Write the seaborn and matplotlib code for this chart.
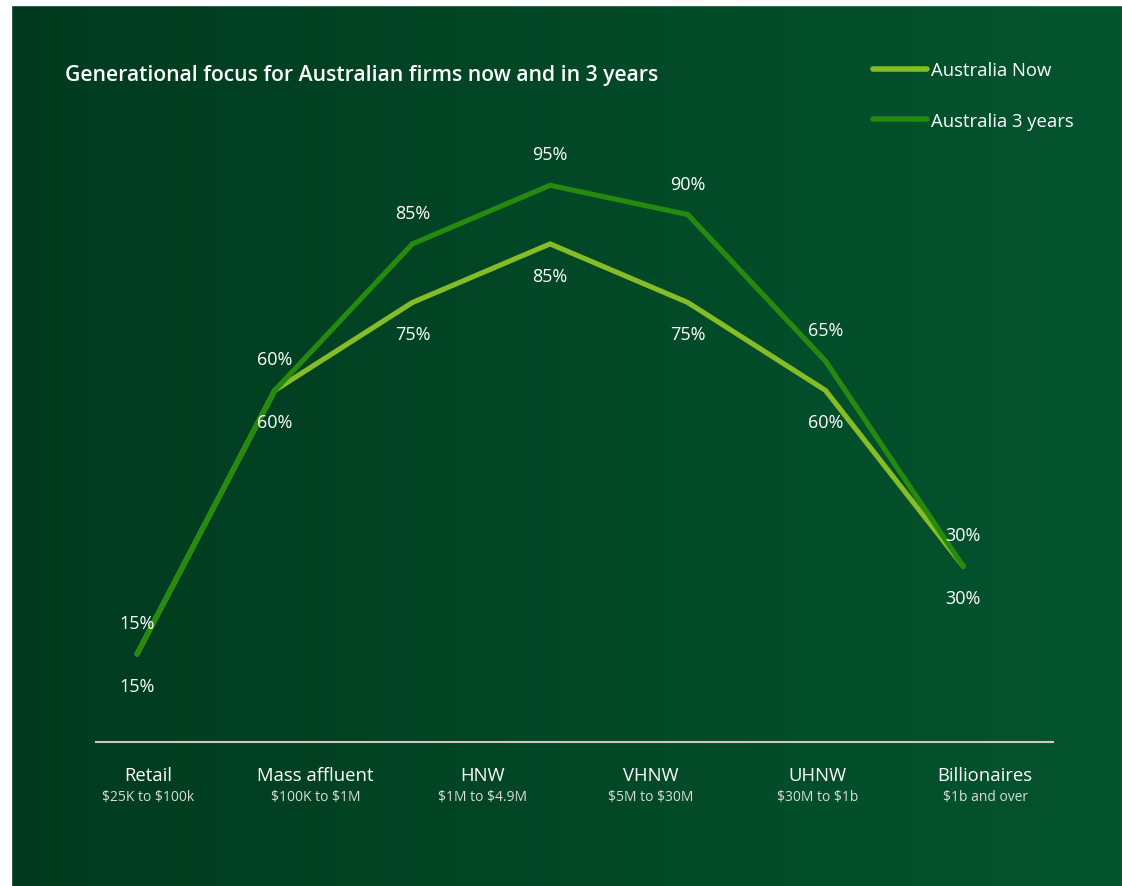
import numpy as np
import pandas as pd
import matplotlib
matplotlib.use('Agg')
import matplotlib.pyplot as plt
import seaborn as sns
from matplotlib.colors import LinearSegmentedColormap

#%% data
points = [0, 1, 2, 3, 4, 5, 6]
now = [15, 60, 75, 85, 75, 60, 30]
in3years = [15, 60, 85, 95, 90, 65, 30]
seriesNames = ['Australia Now', 'Australia 3 years']
categories = ['Retail', 'Mass affluent', 'HNW', 'VHNW', 'UHNW', 'Billionaires']
ranges = [r'\$25K to \$100k', r'\$100K to \$1M', r'\$1M to \$4.9M', r'\$5M to \$30M', r'\$30M to \$1b', r'\$1b and over']
titleStr = 'Generational focus for Australian firms now and in 3 years'

df = pd.DataFrame({'point': points * 2,
                   'value': now + in3years,
                   'series': [seriesNames[0]] * 7 + [seriesNames[1]] * 7})

#%% plotting
sns.set_style('white')
plt.rcParams['font.family'] = ['Open Sans', 'DejaVu Sans']

W, H = 1122, 887
fig = plt.figure(figsize=(W / 100, H / 100), dpi=100)

# gradient background
bg = fig.add_axes([0, 0, 1, 1])
bgCmap = LinearSegmentedColormap.from_list('bg', ['#003a1e', '#04552f'])
grad = np.linspace(0, 1, 256).reshape(1, -1)
bg.imshow(grad, cmap=bgCmap, aspect='auto', extent=[0, 1, 0, 1])
bg.add_patch(plt.Rectangle((0, 0), 11 / W, 1, color='white'))
bg.add_patch(plt.Rectangle((0, 1 - 6 / H), 1, 6 / H, color='white'))
bg.set_xlim(0, 1)
bg.set_ylim(0, 1)
bg.axis('off')

ax = fig.add_axes([96 / W, 1 - 743 / H, (1053 - 96) / W, (743 - 157) / H])
ax.set_facecolor('none')
colors = {seriesNames[0]: '#86bc25', seriesNames[1]: '#268a0e'}
sns.lineplot(data=df, x='point', y='value', hue='series', palette=colors,
             linewidth=3.7, ax=ax, solid_capstyle='round', solid_joinstyle='miter')
ax.set_xlim(-0.298, 6.652)
ax.set_ylim(0, 100)

for sp in ['top', 'left', 'right']:
    ax.spines[sp].set_visible(False)
ax.spines['bottom'].set_color('#c8cabe')
ax.spines['bottom'].set_linewidth(1.5)
ax.set_yticks([])
ax.set_xticks([])
ax.set_xlabel('')
ax.set_ylabel('')

# value labels
for x, v in zip(points, now):
    ax.annotate(f'{v}%', (x, v), xytext=(0, -32), textcoords='offset pixels',
                ha='center', va='center', color='white', fontsize=13)
for x, v in zip(points, in3years):
    ax.annotate(f'{v}%', (x, v), xytext=(0, 31), textcoords='offset pixels',
                ha='center', va='center', color='white', fontsize=13)

# category labels
labelPos = np.linspace(0.08, 6.16, len(categories))
for p, c, r in zip(labelPos, categories, ranges):
    ax.annotate(c, (p, 0), xycoords=ax.get_xaxis_transform(), xytext=(0, -33),
                textcoords='offset pixels', ha='center', va='center', color='white', fontsize=13.3)
    ax.annotate(r, (p, 0), xycoords=ax.get_xaxis_transform(), xytext=(0, -55),
                textcoords='offset pixels', ha='center', va='center', color='#d9ddd4', fontsize=10)

# legend
handles, labels = ax.get_legend_handles_labels()
for h in handles:
    h.set_linewidth(4)
    h.set_solid_capstyle('round')
leg = ax.legend(handles, labels, loc='upper left', bbox_to_anchor=(873 / W, 1 - 62 / H),
                bbox_transform=fig.transFigure, frameon=False, fontsize=13.3,
                handlelength=2.9, handletextpad=0.22, labelspacing=1.78,
                borderpad=0, borderaxespad=0)
for t in leg.get_texts():
    t.set_color('white')

fig.text(65 / W, 1 - 75 / H, titleStr, color='white', fontsize=15.2,
         fontweight='semibold', ha='left', va='center')

fig.savefig('out.png', dpi=100)
